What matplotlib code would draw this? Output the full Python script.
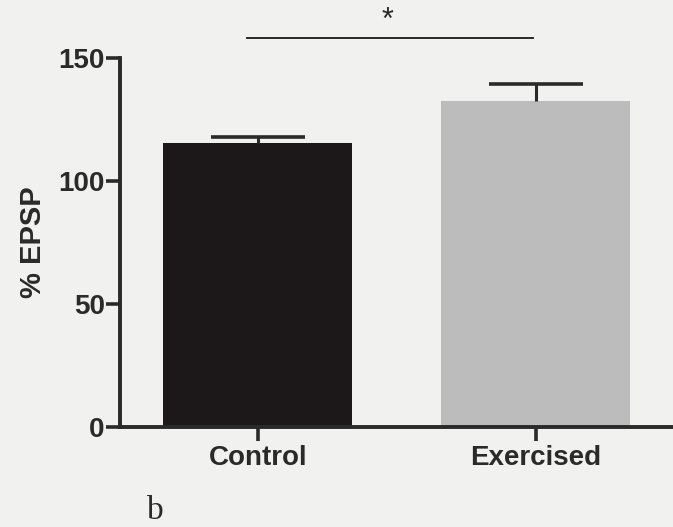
import matplotlib
matplotlib.use("Agg")
import matplotlib.pyplot as plt

# data
groups = ["Control", "Exercised"]
epsp_mean = [115.5, 132.5]
epsp_sem = [2.5, 7.0]
bar_colors = ["#1c181a", "#bcbcbc"]
y_ticks = [0, 50, 100, 150]

plt.rcParams['font.family'] = ['Liberation Sans', 'DejaVu Sans']
ink = "#2a2a2a"

fig = plt.figure(figsize=(6.73, 5.27), dpi=100, facecolor="#f1f1f0")
ax = fig.add_axes([120 / 673, 100 / 527, 553 / 673, 369 / 527])
ax.set_facecolor("#f1f1f0")

pos = list(range(len(groups)))
ax.bar(pos, epsp_mean, width=0.68, color=bar_colors, zorder=2)
# upper-only error bars (SEM)
tops = [m + e for m, e in zip(epsp_mean, epsp_sem)]
ax.vlines(pos, epsp_mean, tops, color=ink, lw=2.2, zorder=3)
ax.hlines(tops, [p - 0.17 for p in pos], [p + 0.17 for p in pos], color=ink, lw=2.6, zorder=3)

ax.set_xlim(-0.496, 1.493)
ax.set_ylim(0, 150)
ax.set_yticks(y_ticks)
ax.set_xticks(pos)
ax.set_xticklabels(groups, fontsize=20, fontweight="bold", color=ink)
ax.set_yticklabels([str(t) for t in y_ticks], fontsize=20, fontweight="bold", color=ink)
ax.tick_params(axis="y", length=10, width=2.6, color=ink, pad=1)
ax.tick_params(axis="x", length=10, width=2.6, color=ink, pad=3)
ax.set_ylabel("% EPSP", fontsize=21, fontweight="bold", color=ink, labelpad=8)

for s in ["top", "right"]:
    ax.spines[s].set_visible(False)
for s in ["left", "bottom"]:
    ax.spines[s].set_linewidth(2.8)
    ax.spines[s].set_color(ink)

# significance bar
ax.plot([-0.04, 0.99], [158, 158], color=ink, lw=1.4, clip_on=False)
ax.text(0.465, 165, "*", ha="center", va="center", fontsize=22, color=ink, clip_on=False)

fig.text(147 / 673, 8 / 527, "b", fontsize=24, family="Liberation Serif", color=ink)

fig.savefig("out.png", dpi=100, facecolor=fig.get_facecolor())
